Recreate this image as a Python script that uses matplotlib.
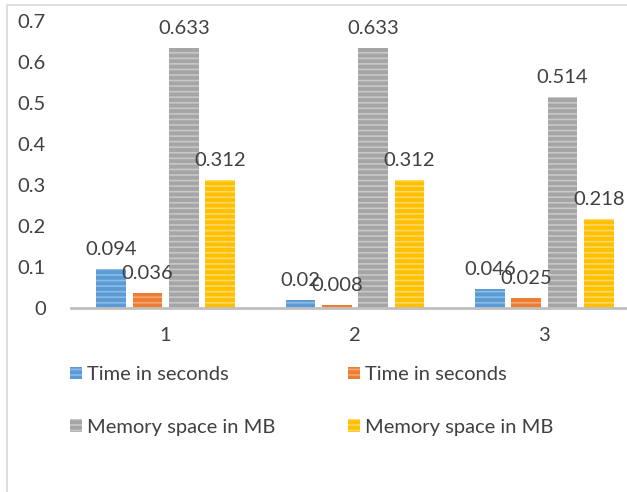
import matplotlib
matplotlib.use("Agg")
import matplotlib.pyplot as plt
from matplotlib.patches import Rectangle
import numpy as np

categories = ["1", "2", "3"]
series_names = ["Time in seconds", "Time in seconds", "Memory space in MB", "Memory space in MB"]
time_a = [0.094, 0.02, 0.046]
time_b = [0.036, 0.008, 0.025]
mem_a = [0.633, 0.633, 0.514]
mem_b = [0.312, 0.312, 0.218]
y_ticks = [0, 0.1, 0.2, 0.3, 0.4, 0.5, 0.6, 0.7]
y_tick_labels = ["0", "0.1", "0.2", "0.3", "0.4", "0.5", "0.6", "0.7"]

colors = ["#5B9BD5", "#ED7D31", "#A5A5A5", "#FFC000"]
hatch_colors = ["#8DBBE6", "#F4A877", "#C8C8C8", "#FFD966"]

plt.rcParams['font.family'] = ['Lato', 'DejaVu Sans']
plt.rcParams['hatch.linewidth'] = 1.2
text_color = "#404040"
fs = 14.5

fig = plt.figure(figsize=(6.27, 4.92), dpi=100)
W, H = 627, 492
# outer frame
fig.patches.append(Rectangle((7 / W, -0.1), 1.2, 1 - 5 / H + 0.1, transform=fig.transFigure,
                             fill=False, edgecolor="#D9D9D9", linewidth=1.2))

ax = fig.add_axes([71 / W, (H - 308) / H, (640 - 72) / W, 287 / H])
x = np.arange(len(categories))
bw = 0.158
step = 0.192
series = [time_a, time_b, mem_a, mem_b]
handles = []
for i, vals in enumerate(series):
    off = (i - 1.5) * step
    bars = ax.bar(x + off, vals, width=bw, color=colors[i], edgecolor=hatch_colors[i],
                  linewidth=0, hatch='---', label=series_names[i])
    handles.append(bars)
    for xi, v in zip(x + off, vals):
        ax.annotate(f"{v:g}", (xi, v), xytext=(0, 8), textcoords="offset points",
                    ha="center", va="bottom", fontsize=fs, color=text_color)

ax.set_xlim(-0.5, 2.5)
ax.set_ylim(0, 0.7)
ax.set_yticks(y_ticks)
ax.set_yticklabels(y_tick_labels)
ax.set_xticks(x)
ax.set_xticklabels(categories)
for s in ["top", "right", "left"]:
    ax.spines[s].set_visible(False)
ax.spines["bottom"].set_color("#BFBFBF")
ax.spines["bottom"].set_linewidth(2)
ax.tick_params(axis="y", length=0, pad=18, labelsize=fs, labelcolor=text_color)
ax.tick_params(axis="x", length=0, pad=14, labelsize=fs, labelcolor=text_color)
ax.set_facecolor("none")

order = [0, 2, 1, 3]
leg = fig.legend(handles=[handles[i] for i in order], labels=[series_names[i] for i in order],
                 ncol=2, loc="upper left",
                 bbox_to_anchor=(70 / W, (H - 366) / H), frameon=False, fontsize=fs,
                 handlelength=0.6, handleheight=0.6, handletextpad=0.25,
                 columnspacing=3.6, labelspacing=1.78, borderaxespad=0, borderpad=0)
for t in leg.get_texts():
    t.set_color(text_color)

fig.savefig("out.png", dpi=100)
